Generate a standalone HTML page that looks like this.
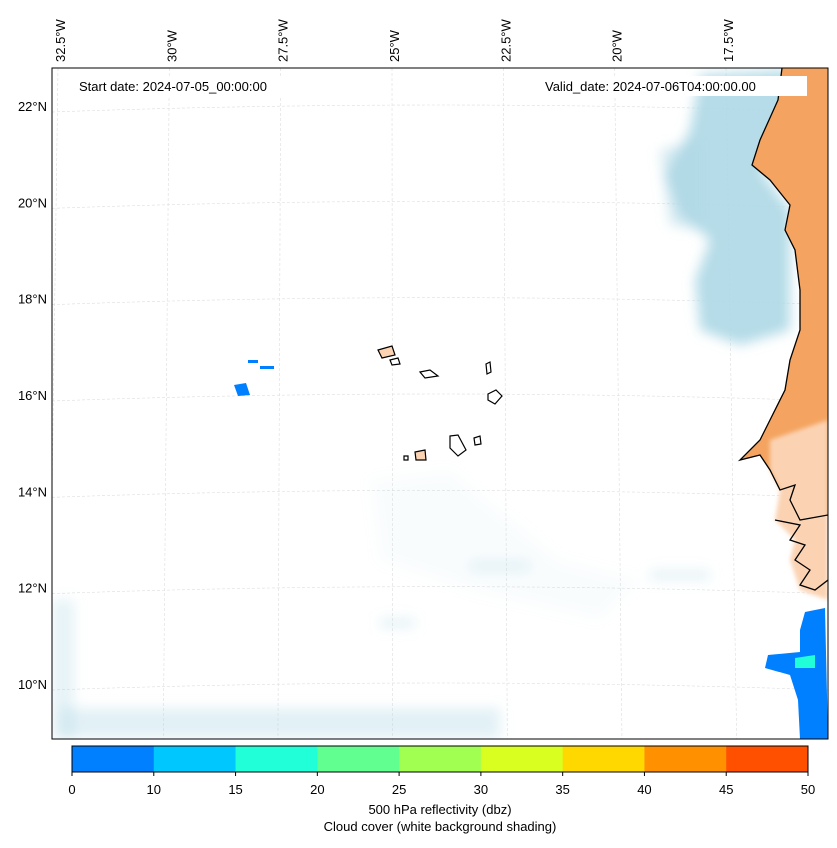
<!DOCTYPE html>
<html><head><meta charset="utf-8"><style>
body{margin:0;background:#fff;font-family:"Liberation Sans","DejaVu Sans",sans-serif;}
svg text{font-family:"Liberation Sans","DejaVu Sans",sans-serif;font-size:13px;fill:#000}
</style></head><body>
<svg id="chart" width="837" height="843" xmlns="http://www.w3.org/2000/svg">
<defs>
<filter id="blur" x="-20%" y="-20%" width="140%" height="140%"><feGaussianBlur stdDeviation="6"/></filter>
<filter id="blur2"><feGaussianBlur stdDeviation="2"/></filter>
<clipPath id="mapclip"><rect x="52" y="68" width="776" height="671"/></clipPath>
</defs>
<g id="map" clip-path="url(#mapclip)">
<rect x="52" y="68" width="776" height="671" fill="#fff"/>
<g id="grid"></g>
<g filter="url(#blur)" fill="#add8e6">
<path d="M700 75 L790 70 L790 150 L760 170 L790 210 L790 330 L740 345 L700 330 L695 280 L710 240 L680 215 L665 175 L690 130 Z" opacity="0.9"/>
<path d="M660 150 L700 140 L700 230 L670 225 Z" opacity="0.5"/>
<rect x="60" y="708" width="440" height="30" opacity="0.35"/>
<rect x="52" y="600" width="22" height="139" opacity="0.3"/>
<path d="M370 480 L450 470 L560 560 L640 580 L600 620 L470 590 L380 560 Z" opacity="0.08"/>
<rect x="650" y="570" width="60" height="10" opacity="0.3"/>
<rect x="470" y="560" width="60" height="12" opacity="0.25"/>
<rect x="380" y="618" width="35" height="10" opacity="0.3"/>
</g>
<g>
<path d="M782 68 L828 68 L828 515 L800 520 L790 500 L795 485 L780 490 L770 470 L760 455 L740 460 L760 440 L770 420 L785 390 L790 360 L800 330 L800 290 L795 250 L785 230 L790 205 L770 180 L752 165 L760 140 L778 100 Z" fill="#f4a460"/>
<path d="M770 440 L828 420 L828 600 L800 590 L790 560 L795 540 L775 520 L780 490 L770 470 Z" fill="#fbd3b3" filter="url(#blur2)"/>
<path d="M782 68 L778 100 L760 140 L752 165 L770 180 L790 205 L785 230 L795 250 L800 290 L800 330 L790 360 L785 390 L770 420 L760 440 L740 460 L760 455 L770 470 L780 490 L795 485 L790 500 L800 520 L828 515 M775 520 L800 525 L790 540 L805 545 L795 560 L810 570 L800 585 L815 590 L828 580" fill="none" stroke="#000" stroke-width="1.3"/>
</g>
<g fill="#0080ff">
<path d="M805 612 L825 608 L828 739 L800 739 L798 700 L790 675 L765 668 L768 655 L800 652 L800 630 Z"/>
<path d="M795 658 L815 655 L815 668 L795 668 Z" fill="#20ffd8"/>
<path d="M234 385 L246 383 L250 395 L238 396 Z"/>
<rect x="248" y="360" width="10" height="3"/>
<rect x="260" y="366" width="14" height="3"/>
</g>
<g stroke="#000" stroke-width="1.2">
<path d="M378 350 L392 346 L395 355 L382 358 Z" fill="#fbd3b3"/>
<path d="M390 360 L398 358 L400 364 L392 365 Z" fill="#fff"/>
<path d="M420 372 L430 370 L438 376 L425 378 Z" fill="#fff"/>
<path d="M486 364 L490 362 L491 372 L487 374 Z" fill="#fff"/>
<path d="M488 394 L496 390 L502 396 L495 404 L488 400 Z" fill="#fff"/>
<path d="M450 436 L458 435 L466 450 L458 456 L450 448 Z" fill="#fff"/>
<path d="M474 438 L480 436 L481 444 L475 445 Z" fill="#fff"/>
<path d="M415 452 L425 450 L426 460 L416 460 Z" fill="#fbd3b3"/>
<path d="M404 456 L408 456 L408 460 L404 460 Z" fill="#fff"/>
</g>
</g>
<rect x="52" y="68" width="776" height="671" fill="none" stroke="#000" stroke-width="1"/>
<rect x="72" y="76" width="240" height="20" fill="#fff"/>
<text x="79" y="91">Start date: 2024-07-05_00:00:00</text>
<rect x="540" y="76" width="267" height="20" fill="#fff"/>
<text x="545" y="91">Valid_date: 2024-07-06T04:00:00.00</text>
<g id="lonlabels"></g>
<g id="latlabels"></g>
<g id="cbar"></g>
<text x="440" y="814" text-anchor="middle">500 hPa reflectivity (dbz)</text>
<text x="440" y="831" text-anchor="middle">Cloud cover (white background shading)</text>
</svg>
<script>
const binEdges=[0,10,15,20,25,30,35,40,45,50];
const binColors=["#0080ff","#00c8ff","#20ffd8","#60ff90","#a0ff50","#d8ff20","#ffd800","#ff9000","#ff5000"];
const tickLabels=["0","10","15","20","25","30","35","40","45","50"];
const lonValues=[-32.5,-30,-27.5,-25,-22.5,-20,-17.5];
const lonLabels=["32.5°W","30°W","27.5°W","25°W","22.5°W","20°W","17.5°W"];
const latValues=[22,20,18,16,14,12,10];
const latLabels=["22°N","20°N","18°N","16°N","14°N","12°N","10°N"];
const NS="http://www.w3.org/2000/svg";
function mk(t,a,p){const e=document.createElementNS(NS,t);for(const k in a)e.setAttribute(k,a[k]);p.appendChild(e);return e;}
const xLon=v=>60+(v+32.5)*(728-60)/15;
const yLat=v=>106+(22-v)*(684-106)/12;
const cx0=72,cx1=808,nb=binColors.length,bw=(cx1-cx0)/nb;
const cbIdx=i=>cx0+i*bw;
const cb=document.getElementById('cbar');
binColors.forEach((c,i)=>{const r=mk('rect',{x:cbIdx(i),y:746,width:bw+0.5,height:26,fill:c},cb);

});
mk('rect',{x:cx0,y:746,width:cx1-cx0,height:26,fill:'none',stroke:'#000','stroke-width':1},cb);
tickLabels.forEach((t,i)=>{const x=cbIdx(i);mk('line',{x1:x,x2:x,y1:772,y2:776,stroke:'#000'},cb);
const tx=mk('text',{x:x,y:794,'text-anchor':'middle'},cb);tx.textContent=t;

});
const g=document.getElementById('grid');
lonValues.forEach(v=>{const x=xLon(v);const l=mk('line',{x1:x-2,y1:68,x2:x+(x-440)*0.03,y2:739,stroke:'#ddd','stroke-width':0.6,'stroke-dasharray':'3,2'},g);

});
latValues.forEach(v=>{const y=yLat(v);const p=mk('path',{d:`M52 ${y+6} Q440 ${y-8} 828 ${y+6}`,fill:'none',stroke:'#ddd','stroke-width':0.6,'stroke-dasharray':'3,2'},g);

});
const lo=document.getElementById('lonlabels');
lonValues.forEach((v,i)=>{const x=xLon(v)+5;const t=mk('text',{x:x,y:62,transform:`rotate(-90 ${x} 62)`},lo);t.textContent=lonLabels[i];

});
const la=document.getElementById('latlabels');
latValues.forEach((v,i)=>{const t=mk('text',{x:47,y:yLat(v)+5,'text-anchor':'end'},la);t.textContent=latLabels[i];

});
</script>
</body></html>
